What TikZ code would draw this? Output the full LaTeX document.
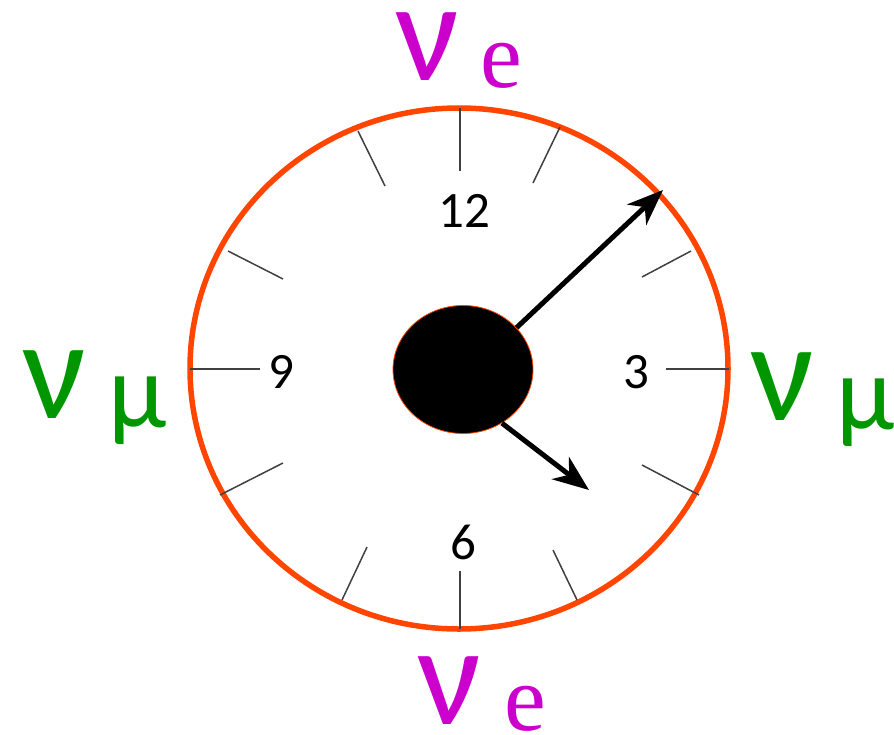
\documentclass[tikz,border=0pt]{standalone}
\usepackage{fontspec}
\setmainfont{Carlito}
\newfontfamily\serifE{Liberation Serif}
\usetikzlibrary{shapes.geometric,arrows.meta}
\definecolor{ringorange}{RGB}{255,69,0}
\definecolor{nuemag}{RGB}{204,0,204}
\definecolor{numugreen}{RGB}{0,150,0}
\tikzset{
  ring/.style={ellipse, draw=ringorange, line width=5.5pt, inner sep=0pt, outer sep=0pt},
  hubstyle/.style={ellipse, draw=ringorange, line width=0.8pt, fill=black, inner sep=0pt},
  tick/.style={draw=black!75, line width=1.5pt},
  hand/.style={draw=black, line width=5pt, -{Stealth[length=36pt, width=28pt, inset=11pt]}},
  digit/.style={inner sep=0pt, font=\fontsize{51}{51}\selectfont},
  nulab/.style={inner sep=0pt, anchor=base west, font=\fontsize{142}{142}\selectfont},
  sublabE/.style={inner sep=0pt, anchor=base west},
  sublabMu/.style={inner sep=0pt, anchor=base west, font=\fontsize{106}{106}\selectfont},
}
\begin{document}
\begin{tikzpicture}[x=1pt,y=-1pt]
\useasboundingbox (0,0) rectangle (894,734);
% dial
\node[ring, minimum width=538pt, minimum height=521pt] (dial) at (459,368.5) {};
% ticks
\draw[tick] (460,108) -- (460,171);
\draw[tick] (560,127) -- (533,183);
\draw[tick] (691,251) -- (642,277);
\draw[tick] (729,369) -- (666,369);
\draw[tick] (699,495) -- (642,465);
\draw[tick] (577,600) -- (553,550);
\draw[tick] (460,629) -- (460,571);
\draw[tick] (342,600) -- (367,547);
\draw[tick] (220,495) -- (283,463);
\draw[tick] (190,369) -- (260,369);
\draw[tick] (228,251) -- (283,279);
\draw[tick] (358,131) -- (385,186);
% numbers
\node[digit] (n12) at (464,211) {12};
\node[digit] (n9) at (281,372) {9};
\node[digit] (n3) at (636,372) {3};
\node[digit] (n6) at (463,542) {6};
% hub and hands
\node[hubstyle, minimum width=140pt, minimum height=128pt] (hub) at (463,369.5) {};
\coordinate (tipA) at (663,190);
\coordinate (tipB) at (589,490);
\draw[hand] (hub.38) -- (tipA);
\draw[hand] (hub.-54) -- (tipB);
% labels
\node[nulab, text=nuemag] (nuTop) at (395,80) {ν};
\node[sublabE, text=nuemag] (eTop) at (480,87) {\serifE\fontsize{94}{94}\selectfont e};
\node[nulab, text=nuemag] (nuBot) at (417,724) {ν};
\node[sublabE, text=nuemag] (eBot) at (504,730) {\serifE\fontsize{94}{94}\selectfont e};
\node[nulab, text=numugreen] (nuLeft) at (22,418) {ν};
\node[sublabMu, text=numugreen] (muLeft) at (108,427) {μ};
\node[nulab, text=numugreen] (nuRight) at (750,420) {ν};
\node[sublabMu, text=numugreen] (muRight) at (836,429) {μ};
\end{tikzpicture}
\end{document}
